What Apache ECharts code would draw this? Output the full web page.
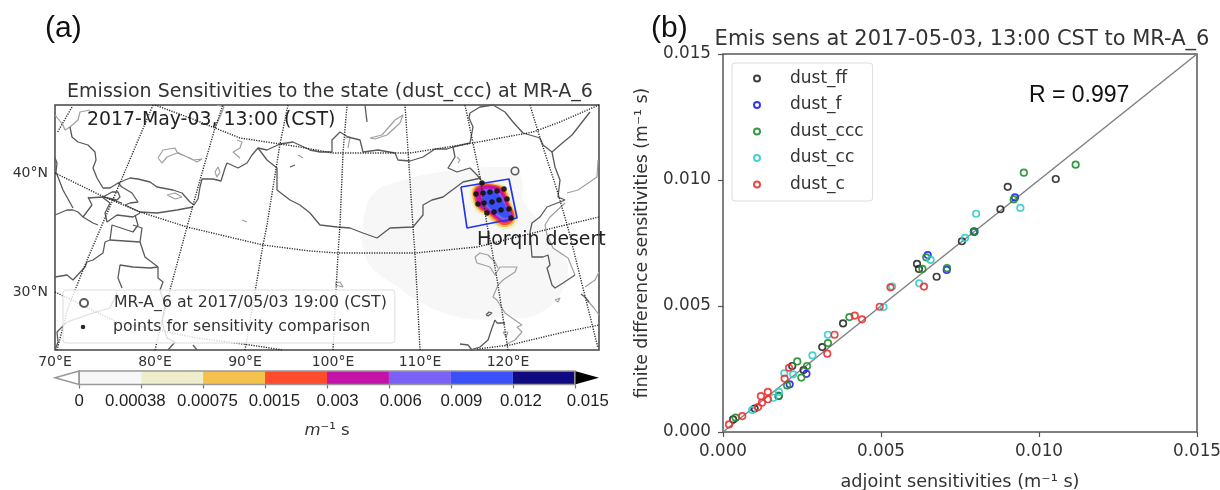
<!DOCTYPE html>
<html><head><meta charset="utf-8">
<style>html,body{margin:0;padding:0;background:#fff}#c{width:1220px;height:490px;filter:blur(0.55px)}</style>
<script src="https://cdn.jsdelivr.net/npm/echarts@6/dist/echarts.min.js"></script>
</head><body><div id="c"></div>
<script>
// ---- panel (b): adjoint vs finite-difference sensitivities [x, y]
const dustFF=[[.01053,.01004],[.00901,.00973],[.00878,.00884],[.00794,.00795],[.00756,.00757],[.00676,.00616],[.0062,.00647],[.00614,.00667],[.00032,.0005],[.001,.00093],[.00176,.00143],[.00219,.00262],[.00255,.00246],[.00314,.00337],[.0038,.00431]];
const dustF=[[.00924,.00931],[.00796,.00795],[.00648,.00702],[.00708,.00643],[.00211,.00189],[.00264,.00231]];
const dustCCC=[[.01116,.01061],[.00952,.01029],[.0092,.00923],[.00794,.00795],[.00643,.00693],[.00631,.00647],[.00709,.0065],[.0004,.00057],[.00176,.00143],[.00203,.00185],[.00235,.0028],[.00266,.00262],[.00248,.00216],[.00332,.00353],[.004,.00456]];
const dustCC=[[.00657,.00683],[.00801,.00866],[.00941,.00889],[.00766,.0077],[.00621,.0059],[.00092,.00087],[.0016,.00136],[.00177,.00159],[.00194,.00233],[.00222,.00229],[.00283,.00304],[.00332,.00386],[.00508,.00496],[.00535,.00577]];
const dustC=[[.00636,.00577],[.00019,.0003],[.00061,.00063],[.00111,.00099],[.00123,.00116],[.00142,.0013],[.0012,.00142],[.00142,.00159],[.00195,.00212],[.00209,.00255],[.0033,.00311],[.00353,.00386],[.00417,.00462],[.0044,.00447],[.00496,.00497],[.0053,.00574]];
const oneToOne=[[0,0],[.015,.015]];
// ---- panel (a): map-plane polylines
const borders=[
[[70,127],[72,137],[78,142],[88,145],[95,152],[96,160],[93,168],[97,178],[103,188],[110,188],[118,183],[130,178],[138,179],[150,182],[157,187],[173,190],[182,193],[190,202],[194,205],[198,199],[200,187],[202,179],[213,179],[221,181],[225,168],[227,163],[238,168],[247,163],[252,155],[258,148],[267,150],[280,144],[293,142],[310,150],[320,152],[332,152],[332,140],[340,132],[348,137],[360,140],[363,152],[378,150],[395,153],[398,160],[410,161],[423,157],[435,149],[447,149],[453,147],[455,157],[448,168],[457,172],[470,168],[477,175],[481,180]],
[[258,148],[267,160],[277,168],[277,190],[290,200],[300,205],[310,213],[320,225],[337,227],[350,228],[363,233],[377,238],[390,228],[413,227],[423,215],[423,205],[432,200],[443,197],[455,188],[463,182],[481,178]],
[[453,147],[470,143],[473,127],[469,118],[470,113],[480,107],[493,105],[505,112],[513,122],[523,133],[540,138],[543,145],[552,152],[560,145],[572,135],[590,112]],
[[552,152],[555,167],[560,180],[558,197],[565,200],[547,207],[540,217],[532,223],[530,232],[532,257],[543,257],[548,255],[550,265],[547,268],[552,285],[555,288],[563,283],[575,275]],
[[55,158],[57,163],[56,172],[63,190],[73,208]],
[[55,215],[67,210],[73,210],[78,212],[83,217],[93,223],[98,225]],
[[88,198],[102,197],[110,203],[105,213],[107,222],[117,215],[133,217],[140,213]],
[[118,183],[122,187],[132,193],[138,202],[130,203],[125,205],[140,212],[157,213],[177,210],[193,207]],
[[103,197],[112,192],[118,192],[120,197],[117,200],[103,197],[122,203]],
[[88,197],[92,205],[83,217]],
[[135,215],[138,225],[133,232],[112,225],[110,240],[105,242],[103,253],[93,260],[87,262],[85,267],[73,280],[67,275],[55,277]],
[[133,225],[142,228],[140,242],[110,240]],
[[140,242],[145,257],[158,267],[158,278],[163,282],[160,290],[165,305],[162,322],[167,338],[175,342],[168,350]],
[[158,267],[150,268],[133,267],[120,265],[118,278],[122,288]],
[[117,293],[110,308],[93,313],[67,322],[57,332],[58,342],[55,350]],
[[193,345],[197,350]],
[[505,323],[497,323],[495,320],[492,328],[488,340],[480,347],[470,350]],
[[460,344],[468,345],[472,350]],
[[486,315],[489,312],[492,313],[488,316],[486,315]],
[[365,105],[367,122]],
[[290,167],[295,165]],
[[581,294],[585,297],[589,302]]
];
const coasts=[
[[475,257],[477,263],[490,267],[495,275],[500,267],[517,267],[515,272],[503,280],[498,285],[493,297],[497,300],[505,313],[512,318],[522,325],[517,327],[522,332],[515,340],[505,345]],
[[503,332],[508,332],[510,334],[506,337],[503,332]],
[[475,257],[480,253],[488,255],[495,262],[498,268]],
[[575,275],[568,258],[553,248],[547,235],[545,225],[550,217],[565,203]],
[[598,160],[597,177],[578,190],[567,193]],
[[585,287],[595,280],[599,272]],
[[587,300],[594,308],[599,315]],
[[555,300],[560,298],[558,302],[555,300]],
[[158,158],[163,150],[175,148],[177,152],[193,160],[202,159],[197,162],[190,158],[177,153],[167,157],[162,163],[158,158]],
[[167,195],[175,193],[182,197],[175,199],[167,195]],
[[215,172],[218,167],[220,172],[217,177],[215,172]],
[[237,140],[242,142],[240,148],[233,152],[240,158]],
[[298,155],[303,158]],[[242,220],[247,222]],
[[370,138],[382,135],[395,120],[403,115],[400,123],[387,135],[375,139],[370,138]],
[[457,157],[460,160],[458,163]],
[[345,138],[350,137],[348,148]],
[[335,283],[340,282],[343,287],[335,285]],
[[55,115],[63,125],[65,130],[70,127],[78,120],[80,112],[90,110]],
[[217,105],[224,107],[220,117],[215,128]]
];
const graticule=[
[[155,105],[190,118],[215,128],[240,138],[280,144],[300,147],[333,153],[410,153],[473,143],[533,132],[560,122],[599,105]],
[[55,173],[100,195],[140,212],[187,227],[263,245],[310,251],[338,253],[415,253],[477,247],[553,228],[599,217]],
[[55,292],[117,322],[197,338],[250,345],[283,350]],
[[477,349],[510,345],[560,333],[599,325]],
[[72,107],[57,133]],
[[153,105],[120,183],[102,225],[85,265],[68,308],[57,350]],
[[155,350],[170,290],[187,227],[200,180],[215,128],[223,105]],
[[245,350],[263,245],[267,225],[280,144],[288,105]],
[[333,350],[338,253],[340,225],[343,153],[347,105]],
[[420,350],[415,253],[413,227],[408,150],[405,105]],
[[508,350],[498,285],[492,250],[487,225],[480,177],[473,143],[465,105]],
[[530,105],[540,138],[557,190],[568,228],[583,288],[598,348]]
];
const comparisonBox=[[461,187],[509,179],[517,218],[467,228],[461,187]];
const stationPoint=[[515,171]];
const comparisonPoints=[[476,194],[483,193],[490,192],[497,191],[504,189],[478,204],[484,203],[492,202],[499,200],[507,199],[487,213],[494,212],[501,210],[509,209],[511,218],[482,183]];
const footprintLevels=[
{color:'#f7f7f7',pts:[[363,228],[367,205],[375,192],[390,184],[440,172],[505,167],[520,173],[524,203],[534,215],[548,232],[560,250],[568,268],[560,295],[545,310],[525,318],[505,316],[485,320],[450,315],[420,302],[395,285],[372,268],[363,248]]},
{color:'#eeeecc',pts:[[471,188],[482,181],[496,182],[507,187],[513,204],[518,215],[515,226],[503,229],[494,225],[486,217],[477,212],[471,201]]},
{color:'#f4c24c',pts:[[473,188],[482,183],[495,184],[505,188],[511,204],[516,215],[513,224],[503,227],[495,223],[487,215],[478,210],[473,200]]},
{color:'#ff4c2c',pts:[[474.5,189],[482,184.5],[495,185],[503.5,189],[509.5,204],[514.5,215],[511.5,222.5],[503,225],[496,220.5],[488,213.5],[479,208.5],[474.5,199]]},
{color:'#c414a8',pts:[[476,190],[483,186],[494,186],[502,190],[508,204],[513,215],[510,221],[503,222.5],[496,218],[488,212],[480,207],[476,198]]},
{color:'#7b62f6',pts:[[481,192],[485,189],[493,189],[500,193],[506,205],[511,215],[508,219],[503,220],[497,216],[490,210],[484,204]]},
{color:'#3c50f8',pts:[[484,193],[493,191],[499,195],[505,205],[510,215],[505,218],[498,214],[490,208],[485,201]]}
];
const lonTickPos=[55,155,245,333,420,508];
const lonTickLabels=['70°E','80°E','90°E','100°E','110°E','120°E'];
const latTickPos=[173,292];
const latTickLabels=['40°N','30°N'];
// ---- colour bar
const cbLabels=['0','0.00038','0.00075','0.0015','0.003','0.006','0.009','0.012','0.015'];
const cbLabelPos=[0,.905,2.07,3.15,4.17,5.19,6.17,7.13,8.21];
const cbColors=['#f7f7f7','#eeeecc','#f4c24c','#ff4c2c','#c414a8','#7b62f6','#3c50f8','#100a80'];
const cbPositions=[0,1,2,3,4,5,6,7,8];

const FONT='"DejaVu Sans"';
const TXT='#333';
const mapAxes={xAxisIndex:0,yAxisIndex:0};
function polyLine(pts,color,width,type){
  return Object.assign({type:'line',data:pts,symbol:'none',silent:true,animation:false,z:3,
    lineStyle:{color:color,width:width,type:type||'solid',opacity:1}},mapAxes);
}
function fillSeries(level){
  return Object.assign({type:'custom',silent:true,animation:false,z:2,data:[0],
    renderItem:function(p,api){return {type:'polygon',shape:{points:level.pts.map(q=>api.coord(q)),smooth:0.4},style:{fill:level.color}};}},mapAxes);
}
function dustSeries(name,data,color){
  return {name:name,type:'scatter',xAxisIndex:2,yAxisIndex:2,data:data,symbol:'circle',symbolSize:6.5,animation:false,z:5,
    itemStyle:{color:'transparent',borderColor:color,borderWidth:1.7,opacity:.9}};
}
const series=[];
footprintLevels.forEach(l=>series.push(fillSeries(l)));
coasts.forEach(p=>series.push(polyLine(p,'#a0a0a0',1.2)));
borders.forEach(p=>series.push(polyLine(p,'#5a5a5a',1.3)));
graticule.forEach(p=>series.push(polyLine(p,'#2a2a2a',1.4,[1.2,1.3])));
series.push(polyLine(comparisonBox,'#2233ee',1.7));
series.push(Object.assign({name:'points for sensitivity comparison',type:'scatter',data:comparisonPoints,symbol:'circle',symbolSize:5.5,animation:false,z:6,itemStyle:{color:'#111',opacity:.9}},mapAxes));
series.push(Object.assign({name:'MR-A_6 at 2017/05/03 19:00 (CST)',type:'scatter',data:stationPoint,symbol:'circle',symbolSize:7.5,animation:false,z:6,itemStyle:{color:'transparent',borderColor:'#333',borderWidth:1.6}},mapAxes));
// colour bar
series.push({type:'custom',xAxisIndex:1,yAxisIndex:1,silent:true,animation:false,z:3,data:cbPositions.slice(0,8),
  renderItem:function(p,api){const i=api.value(0);const a=api.coord([i,0]),b=api.coord([i+1,1]);
    return {type:'rect',shape:{x:a[0],y:b[1],width:b[0]-a[0],height:a[1]-b[1]},style:{fill:cbColors[i]}};}});
series.push({type:'custom',xAxisIndex:1,yAxisIndex:1,silent:true,animation:false,z:4,data:[0],
  renderItem:function(p,api){
    return {type:'group',children:[
      {type:'polygon',shape:{points:[api.coord([-0.39,.5]),api.coord([0,1]),api.coord([0,0])]},style:{fill:'#fff',stroke:'#999',lineWidth:1.5}},
      {type:'polygon',shape:{points:[api.coord([8,1]),api.coord([8.39,.5]),api.coord([8,0])]},style:{fill:'#000'}},
      {type:'rect',shape:{x:api.coord([0,0])[0],y:api.coord([0,1])[1],width:api.coord([8,0])[0]-api.coord([0,0])[0],height:api.coord([0,0])[1]-api.coord([0,1])[1]},style:{fill:'none',stroke:'#999',lineWidth:1.5}}
    ]};}});
// panel b
series.push({type:'line',xAxisIndex:2,yAxisIndex:2,data:oneToOne,symbol:'none',silent:true,animation:false,z:3,lineStyle:{color:'#808080',width:1.5}});
series.push(dustSeries('dust_ff',dustFF,'#2a2a2a'));
series.push(dustSeries('dust_f',dustF,'#2222ee'));
series.push(dustSeries('dust_ccc',dustCCC,'#1f8f2f'));
series.push(dustSeries('dust_cc',dustCC,'#33cccc'));
series.push(dustSeries('dust_c',dustC,'#f03030'));

function richLegend(pad,size){return {formatter:n=>'{t|'+n+'}',textStyle:{rich:{t:{fontFamily:FONT,fontSize:size,color:TXT,padding:[0,0,0,pad]}}}};}

const option={
  backgroundColor:'#fff',animation:false,
  textStyle:{fontFamily:FONT},
  title:[
    {text:'Emission Sensitivities to the state (dust_ccc) at MR-A_6',left:325,top:78,textAlign:'center',textStyle:{fontFamily:FONT,fontSize:19,fontWeight:'normal',color:TXT}},
    {text:'Emis sens at 2017-05-03, 13:00 CST to MR-A_6',left:957,top:24,textAlign:'center',textStyle:{fontFamily:FONT,fontSize:21,fontWeight:'normal',color:TXT}}
  ],
  grid:[
    {left:55,top:105,width:544,height:245,show:true,borderColor:'#444',borderWidth:1.5,backgroundColor:'#fff',outerBoundsMode:'none'},
    {left:55,top:371,width:544,height:13.5,outerBoundsMode:'none'},
    {left:723,top:54,width:474,height:378,show:true,borderColor:'#555',borderWidth:1.5,outerBoundsMode:'none'}
  ],
  xAxis:[
    {gridIndex:0,type:'value',min:55,max:599,splitLine:{show:false},axisLine:{show:false},axisTick:{show:false},
     axisLabel:{customValues:lonTickPos,formatter:v=>lonTickLabels[lonTickPos.indexOf(v)],fontSize:14,color:TXT,margin:5,fontFamily:FONT,alignMinLabel:'center',alignMaxLabel:'center'}},
    {gridIndex:1,type:'value',min:-0.39,max:8.39,splitLine:{show:false},axisLine:{show:false},
     axisTick:{customValues:cbPositions,length:4,lineStyle:{color:'#777',width:1.2}},
     axisLabel:{customValues:cbLabelPos,formatter:v=>cbLabels[cbLabelPos.indexOf(v)],fontSize:16.8,color:'#222',margin:8,fontFamily:'"Liberation Sans"',alignMinLabel:'center',alignMaxLabel:'center'},
     name:'{i|m}⁻¹ s',nameLocation:'center',nameGap:38,nameTextStyle:{fontSize:16.5,color:TXT,fontFamily:FONT,rich:{i:{fontStyle:'italic',fontSize:16.5,color:TXT,fontFamily:FONT}}}},
    {gridIndex:2,type:'value',min:0,max:.015,interval:.005,splitLine:{show:false},
     axisLine:{show:false},axisTick:{length:5,lineStyle:{color:'#555',width:1.2}},
     axisLabel:{formatter:v=>v.toFixed(3),fontSize:16.8,color:TXT,margin:11,fontFamily:FONT,showMinLabel:true,showMaxLabel:true,alignMinLabel:'center',alignMaxLabel:'center'},
     name:'adjoint sensitivities (m⁻¹ s)',nameLocation:'center',nameGap:41,nameTextStyle:{fontSize:17.7,color:TXT,fontFamily:FONT}}
  ],
  yAxis:[
    {gridIndex:0,type:'value',min:105,max:350,inverse:true,splitLine:{show:false},axisLine:{show:false},axisTick:{show:false},
     axisLabel:{customValues:latTickPos,formatter:v=>latTickLabels[latTickPos.indexOf(v)],fontSize:14,color:TXT,margin:7,fontFamily:FONT}},
    {gridIndex:1,type:'value',min:0,max:1,show:false},
    {gridIndex:2,type:'value',min:0,max:.015,interval:.005,splitLine:{show:false},
     axisLine:{show:false},axisTick:{length:5,lineStyle:{color:'#555',width:1.2}},
     axisLabel:{formatter:v=>v.toFixed(3),fontSize:16.8,color:TXT,margin:12,fontFamily:FONT,showMinLabel:true,showMaxLabel:true,verticalAlignMinLabel:'middle',verticalAlignMaxLabel:'middle'},
     name:'finite difference sensitivities (m⁻¹ s)',nameLocation:'center',nameGap:72,nameTextStyle:{fontSize:17.3,color:TXT,fontFamily:FONT}}
  ],
  legend:[
    Object.assign({data:['MR-A_6 at 2017/05/03 19:00 (CST)'],left:63,top:290,orient:'vertical',selectedMode:false,icon:'circle',
      itemWidth:40,itemHeight:8,padding:[5,8,32,16],backgroundColor:'rgba(255,255,255,.8)',borderColor:'#ddd',borderWidth:1,borderRadius:3,z:10},richLegend(5,15.75)),
    Object.assign({data:['points for sensitivity comparison'],left:80.75,top:319,orient:'vertical',selectedMode:false,icon:'circle',
      itemWidth:40,itemHeight:4.5,padding:0,z:11},richLegend(5,15.75)),
    Object.assign({data:['dust_ff','dust_f','dust_ccc','dust_cc','dust_c'],left:732,top:63,orient:'vertical',selectedMode:false,icon:'circle',
      itemWidth:48,itemHeight:6,itemGap:9.5,padding:[7,9,8,21],backgroundColor:'rgba(255,255,255,.8)',borderColor:'#ddd',borderWidth:1,borderRadius:3,z:10},richLegend(4,17))
  ],
  graphic:[
    {type:'text',z:20,style:{text:'(a)',x:45,y:14,font:'30px "Liberation Sans"',fill:'#111'}},
    {type:'text',z:20,style:{text:'(b)',x:651,y:14,font:'30px "Liberation Sans"',fill:'#111'}},
    {type:'text',z:20,style:{text:'R = 0.997',x:1029,y:84,font:'23px "Liberation Sans"',fill:'#111'}},
    {type:'text',z:20,style:{text:'2017-May-03, 13:00 (CST)',x:87,y:111,font:'18.9px "DejaVu Sans"',fill:'#222'}},
    {type:'text',z:20,style:{text:'Horqin desert',x:477,y:231,font:'18.9px "DejaVu Sans"',fill:'#222'}}
  ],
  series:series
};
echarts.init(document.getElementById('c')).setOption(option);
</script></body></html>
